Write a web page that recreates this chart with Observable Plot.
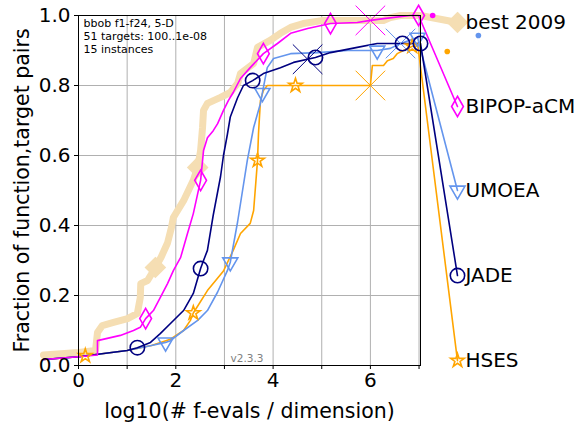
<!DOCTYPE html>
<html><head><meta charset="utf-8">
<script src="https://cdn.jsdelivr.net/npm/d3@7"></script>
<script src="https://cdn.jsdelivr.net/npm/@observablehq/plot@0.6"></script>
<style>body{margin:0;background:#fff;overflow:hidden}</style>
</head><body><div id="chart"></div>
<script>
// ---- data (log10 evals/dim, fraction of pairs) ----
const algorithms = ["best 2009", "BIPOP-aCM", "UMOEA", "JADE", "HSES"];
const colors = ["#F5DEB3", "#FF00FF", "#6495ED", "#000080", "#FFA500"];

const best2009X = [-0.72,0,0.35,0.39,0.49,0.72,1.01,1.21,1.27,1.28,1.42,1.58,1.70,1.83,1.91,1.95,2.16,2.36,2.45,2.51,2.55,2.57,2.65,2.92,3.12,3.27,3.33,3.6,3.68,3.94,4.15,4.36,4.62,5.03,6.27,6.41,6.62,7.03,7.79];
const best2009Y = [0.03,0.037,0.043,0.094,0.114,0.123,0.134,0.149,0.194,0.234,0.243,0.28,0.31,0.35,0.394,0.423,0.471,0.529,0.566,0.614,0.68,0.729,0.749,0.766,0.78,0.806,0.834,0.863,0.909,0.929,0.949,0.966,0.977,0.986,0.986,0.994,1.0,1.0,0.98];

const bipopX = [-0.72,0,0.39,0.39,0.86,1.13,1.27,1.38,1.54,1.68,1.83,1.95,2.10,2.24,2.36,2.45,2.51,2.57,2.65,2.77,2.86,2.98,3.08,3.18,3.33,3.53,3.80,4.09,4.36,4.71,5.18,5.73,6.0,6.27,6.82,6.99,7.79];
const bipopY = [0.017,0.025,0.03,0.071,0.086,0.1,0.109,0.134,0.157,0.194,0.234,0.271,0.309,0.377,0.434,0.491,0.529,0.614,0.651,0.671,0.691,0.729,0.757,0.78,0.82,0.851,0.891,0.92,0.949,0.963,0.977,0.98,0.986,0.991,1.0,1.0,0.74];

const umoeaX = [-0.72,0,0.4,1.0,1.5,1.79,1.89,2.16,2.45,2.65,2.86,3.06,3.12,3.27,3.47,3.60,3.74,3.80,3.88,4.01,4.36,4.91,5.53,6.14,6.41,6.62,6.97,7.79];
const umoeaY = [0.017,0.025,0.032,0.043,0.057,0.066,0.071,0.1,0.129,0.157,0.21,0.271,0.295,0.41,0.586,0.68,0.749,0.794,0.851,0.877,0.891,0.894,0.9,0.9,0.906,0.92,0.937,0.5];

const jadeX = [-0.72,0,0.4,1.0,1.21,1.48,1.68,1.89,2.16,2.36,2.51,2.57,2.65,2.77,2.92,2.98,3.06,3.12,3.27,3.39,3.58,3.80,4.15,4.42,4.87,5.18,5.73,6.14,6.66,7.03,7.79];
const jadeY = [0.017,0.025,0.032,0.043,0.051,0.066,0.091,0.12,0.157,0.206,0.277,0.3,0.329,0.43,0.54,0.6,0.66,0.71,0.765,0.8,0.814,0.834,0.851,0.866,0.88,0.894,0.909,0.92,0.92,0.92,0.257];

const hsesX = [-0.72,0,0.4,1.0,1.5,1.89,2.16,2.30,2.36,2.65,2.98,3.18,3.33,3.53,3.60,3.68,3.70,3.74,3.80,3.88,6.0,6.04,6.27,6.35,6.47,6.55,6.68,6.82,6.97,7.79];
const hsesY = [0.017,0.025,0.032,0.043,0.057,0.075,0.1,0.129,0.15,0.214,0.27,0.329,0.377,0.406,0.443,0.586,0.663,0.757,0.786,0.8,0.8,0.857,0.857,0.871,0.877,0.891,0.9,0.909,0.92,0.014];

// marker positions (x values along each curve)
const best2009Markers = [1.58, 2.45, 7.79];
const bipopMarkers = [1.38, 2.51, 3.80, 5.18, 6.99, 7.79];
const umoeaMarkers = [1.79, 3.12, 3.78, 6.14, 6.97, 7.79];
const jadeMarkers = [1.21, 2.51, 3.58, 4.87, 6.66, 7.03, 7.79];
const hsesMarkers = [0.14, 2.36, 3.68, 4.46, 6.86, 7.79];
// budget crosses (x values)
const bipopBudget = 6.0, umoeaBudget = 6.62, jadeBudget = 4.71, hsesBudget = 6.0;
// extra small dots
const dotX = [7.28, 8.22, 7.58];
const dotY = [1.0, 0.943, 0.897];
const dotColor = ["#FF00FF", "#6495ED", "#FFA500"];

const xTicks = [0,1,2,3,4,5,6,7];
const yTicks = [0,0.2,0.4,0.6,0.8,1.0];
const infoText = "bbob f1-f24, 5-D\n51 targets: 100..1e-08\n15 instances";

// ---- build ----
const interp = (xs, ys, x) => {
  for (let i = 1; i < xs.length; i++) {
    if (x <= xs[i]) { const d = xs[i]-xs[i-1]; const t = d ? (x-xs[i-1])/d : 1; return ys[i-1] + t*(ys[i]-ys[i-1]); }
  }
  return ys[ys.length-1];
};
const series = [
  {name: algorithms[0], xs: best2009X, ys: best2009Y, color: colors[0], markers: best2009Markers, symbol: "diamond2", r: 8.5, rotate: 0, budget: null},
  {name: algorithms[1], xs: bipopX, ys: bipopY, color: colors[1], markers: bipopMarkers, symbol: "diamond", r: 6.2, rotate: 0, budget: bipopBudget},
  {name: algorithms[2], xs: umoeaX, ys: umoeaY, color: colors[2], markers: umoeaMarkers, symbol: "triangle", r: 5.6, rotate: 180, budget: umoeaBudget},
  {name: algorithms[3], xs: jadeX, ys: jadeY, color: colors[3], markers: jadeMarkers, symbol: "circle", r: 7.2, rotate: 0, budget: jadeBudget},
  {name: algorithms[4], xs: hsesX, ys: hsesY, color: colors[4], markers: hsesMarkers, symbol: "star", r: 4.3, rotate: 0, budget: hsesBudget}
];
const lineRows = s => s.xs.map((x, i) => ({x, y: s.ys[i]}));
const markerRows = s => s.markers.map(x => ({x, y: interp(s.xs, s.ys, x)}));

const marks = [
  Plot.gridX(xTicks, {stroke: "#b0b0b0", strokeOpacity: 1, strokeWidth: 1}),
  Plot.gridY(yTicks, {stroke: "#b0b0b0", strokeOpacity: 1, strokeWidth: 1}),
  Plot.line(lineRows(series[0]), {x: "x", y: "y", stroke: series[0].color, strokeWidth: 7, strokeLinejoin: "round"}),
  Plot.dot(markerRows(series[0]), {x: "x", y: "y", symbol: "diamond2", r: series[0].r, fill: series[0].color, stroke: series[0].color, strokeWidth: 2})
];
const order = [4, 2, 3, 1];
for (const k of order) {
  const s = series[k];
  marks.push(Plot.line(lineRows(s), {x: "x", y: "y", stroke: s.color, strokeWidth: 1.6}));
}
for (const k of order) {
  const s = series[k];
  marks.push(Plot.dot(markerRows(s), {x: "x", y: "y", symbol: s.symbol, r: s.r, rotate: s.rotate, fill: "none", stroke: s.color, strokeWidth: 1.6}));
  marks.push(Plot.dot([{x: s.budget, y: interp(s.xs, s.ys, s.budget)}], {x: "x", y: "y", symbol: "times", r: 13.5, stroke: s.color, strokeWidth: 1}));
}
marks.push(Plot.dot(dotX.map((x, i) => ({x, y: dotY[i], c: dotColor[i]})), {x: "x", y: "y", r: 2.8, fill: d => d.c, stroke: "none"}));
marks.push(Plot.frame({stroke: "black", strokeWidth: 1}));
marks.push(Plot.axisY(yTicks, {tickFormat: d3.format(".1f"), tickSize: 4, tickPadding: 4, fontSize: 20, label: null}));
marks.push(Plot.axisX(xTicks, {tickFormat: d => d % 2 === 0 ? String(d) : "", tickSize: 4, tickPadding: 3, fontSize: 20, label: null}));
marks.push(Plot.text(["Fraction of function,target pairs"], {frameAnchor: "left", rotate: -90, dx: -56, fontSize: 20.5, textAnchor: "middle", lineAnchor: "middle"}));
marks.push(Plot.text(["log10(# f-evals / dimension)"], {frameAnchor: "bottom", dy: 46, fontSize: 20.5, textAnchor: "middle", lineAnchor: "middle"}));
marks.push(Plot.text([infoText], {frameAnchor: "top-left", dx: 5, dy: 2, fontSize: 11, lineAnchor: "top", textAnchor: "start", lineHeight: 1.18}));
marks.push(Plot.text(["v2.3.3"], {frameAnchor: "bottom-left", dx: 152, dy: -4, fontSize: 10.5, lineAnchor: "bottom", textAnchor: "start", fill: "#808080"}));
marks.push(Plot.text(series.map(s => ({x: s.xs[s.xs.length-1], y: s.ys[s.ys.length-1], t: s.name})), {x: "x", y: "y", text: "t", dx: 8, textAnchor: "start", lineAnchor: "middle", fontSize: 20, fill: "black"}));

const chart = Plot.plot({
  width: 580, height: 428,
  marginLeft: 78, marginRight: 160, marginTop: 15, marginBottom: 63,
  x: {domain: [0, 7.03]},
  y: {domain: [0, 1]},
  style: {fontFamily: "DejaVu Sans", fontSize: "20px", color: "black", background: "white", overflow: "visible"},
  marks
});
document.getElementById("chart").appendChild(chart);
</script>
</body></html>
